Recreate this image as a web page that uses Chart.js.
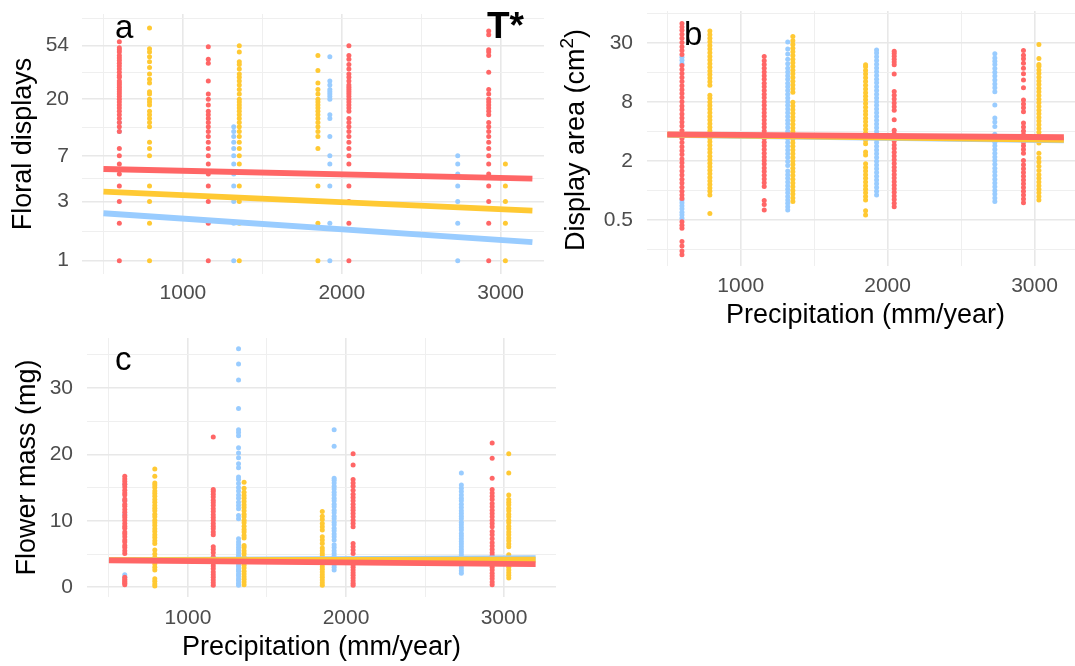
<!DOCTYPE html>
<html>
<head>
<meta charset="utf-8">
<script src="https://cdn.jsdelivr.net/npm/chart.js@4.4.1/dist/chart.umd.min.js"></script>
<style>
  html, body { margin: 0; padding: 0; background: #fff; width: 1075px; height: 666px; overflow: hidden; }
  canvas { position: absolute; }
  #pa { left: 0; top: 0; }
  #pb { left: 545px; top: 0; }
  #pc { left: 0; top: 330px; }
</style>
</head>
<body>
<canvas id="pa" width="548" height="330"></canvas>
<canvas id="pb" width="545" height="340"></canvas>
<canvas id="pc" width="560" height="336"></canvas>
<script>
// sites (precipitation, mm/year) of each colour group
const redSites    = [600, 1160, 2045, 2925];
const yellowSites = [790, 1355, 1850, 3030];
const blueSites   = [600, 1320, 1925, 2730];
const fitX   = [500, 3200];
const xMajor = [1000, 2000, 3000];
const xMinor = [500, 1500, 2500];

// a : floral displays (one list per site)
const displaysRed = [
  [1, 2, 3, 4, 5, 6, 7, 8, 11, 12, 13, 14, 15, 16, 17, 18, 19, 20, 21, 22, 23, 24, 25, 26, 27, 28, 30, 31, 33, 35, 37, 39, 41, 43, 45, 48, 50, 52, 58],
  [1, 2, 3, 4, 5, 6, 7, 8, 9, 10, 11, 12, 13, 14, 15, 16, 18, 20, 22, 28, 39, 42, 53],
  [1, 2, 3, 4, 6, 7, 8, 9, 10, 11, 12, 13, 14, 16, 17, 18, 19, 20, 21, 22, 23, 24, 25, 26, 28, 30, 32, 35, 38, 42, 45, 54],
  [1, 2, 3, 4, 5, 6, 7, 8, 9, 10, 11, 12, 13, 15, 16, 17, 18, 19, 20, 22, 24, 33, 45, 48, 50, 66, 71]
];
const displaysYellow = [
  [1, 2, 3, 4, 7, 8, 9, 12, 13, 14, 15, 16, 18, 19, 20, 22, 23, 27, 29, 32, 36, 40, 44, 48, 51, 75],
  [1, 2, 3, 4, 6, 7, 8, 9, 10, 11, 12, 13, 14, 15, 16, 17, 18, 19, 20, 22, 24, 26, 28, 30, 32, 35, 38, 40, 48, 54],
  [1, 2, 3, 4, 8, 10, 11, 12, 13, 14, 15, 16, 17, 18, 19, 20, 22, 24, 27, 34, 45],
  [1, 2, 3, 4, 6]
];
const displaysBlue = [
  [11, 13],
  [1, 2, 3, 4, 5, 6, 7, 8, 9, 10, 11, 12],
  [1, 2, 4, 6, 7, 10, 14, 15, 20, 21, 22, 23, 24, 26, 28, 44],
  [1, 2, 3, 4, 5, 6, 7]
];
const displaysFitRed    = [5.48, 4.58];
const displaysFitYellow = [3.6, 2.53];
const displaysFitBlue   = [2.41, 1.41];
const displaysTicks = [1, 3, 7, 20, 54];
const displaysTickLabels = ['1', '3', '7', '20', '54'];
const displaysMinor = [1.73, 4.58, 11.8, 32.9, 90];

// b : display area (cm2)
const areaRed = [
  [0.22, 0.24, 0.27, 0.3, 0.41, 0.44, 0.48, 0.83, 0.9, 0.98, 1.08, 1.19, 1.3, 1.44, 1.58, 1.75, 1.92, 2.1, 2.33, 2.55, 2.8, 3.1, 3.4, 3.75, 4.1, 4.55, 5.0, 5.5, 6.05, 6.7, 7.3, 8.1, 8.9, 9.8, 10.7, 11.8, 13, 14.3, 15.7, 17.3, 19, 24.5, 27, 29.5, 32.5, 36, 39.5, 43.5, 47, 51],
  [0.63, 0.72, 0.79, 1.1, 1.2, 1.31, 1.43, 1.56, 1.7, 1.86, 2.02, 2.2, 2.4, 2.62, 2.86, 3.12, 3.4, 3.72, 4.05, 4.42, 4.82, 5.25, 5.75, 6.25, 6.8, 7.45, 8.1, 8.85, 9.65, 10.5, 11.5, 12.5, 13.7, 14.9, 16.3, 17.8, 19.4, 21.2, 23.5],
  [0.68, 0.74, 0.81, 0.88, 0.96, 1.04, 1.13, 1.23, 1.34, 1.46, 1.59, 1.73, 1.89, 2.06, 2.25, 2.46, 2.68, 2.92, 3.2, 3.48, 3.8, 4.12, 5.3, 6.6, 7.2, 7.85, 8.6, 9.4, 10.3, 15.5, 19.3, 20.6, 22, 23.6, 25.2, 26.5],
  [0.75, 0.82, 0.9, 0.98, 1.07, 1.17, 1.28, 1.4, 1.53, 1.67, 1.83, 2.02, 2.4, 2.62, 2.86, 3.12, 3.4, 3.72, 4.06, 4.45, 4.9, 6.4, 7.0, 7.65, 8.4, 11.2, 13.5, 15.6, 17.8, 20, 22.2, 24.2, 27]
];
const areaYellow = [
  [0.58, 0.9, 0.98, 1.06, 1.15, 1.25, 1.36, 1.48, 1.61, 1.75, 1.9, 2.06, 2.24, 2.44, 2.66, 2.9, 3.15, 3.43, 3.74, 4.07, 4.43, 4.82, 5.25, 5.72, 6.23, 6.8, 7.4, 8.05, 8.75, 9.4, 11.9, 12.9, 14.1, 15.3, 16.7, 18.2, 19.8, 21.6, 23.5, 25.6, 27.9, 30.4, 33.1, 36, 39.2, 42.6],
  [0.77, 0.84, 0.92, 1.0, 1.09, 1.19, 1.3, 1.42, 1.55, 1.69, 1.84, 2.0, 2.18, 2.38, 2.6, 2.83, 3.08, 3.36, 3.66, 4.0, 4.36, 4.75, 5.18, 5.64, 6.15, 6.7, 7.3, 8.0, 10.1, 11.0, 12.0, 13.1, 14.3, 15.6, 17.0, 18.5, 20.2, 22, 24, 26.2, 28.5, 31, 34, 37.5],
  [0.56, 0.62, 0.8, 0.87, 0.95, 1.03, 1.12, 1.22, 1.33, 1.45, 1.58, 1.72, 1.88, 2.3, 2.48, 3.0, 3.27, 3.56, 3.88, 4.23, 4.61, 5.03, 5.48, 5.97, 6.5, 7.1, 7.75, 8.45, 9.2, 10.0, 10.9, 11.9, 13.0, 14.2, 15.5, 16.9, 18.4, 19.3],
  [0.8, 0.87, 0.95, 1.03, 1.12, 1.22, 1.33, 1.45, 1.6, 1.77, 1.95, 2.15, 2.4, 3.05, 3.32, 3.62, 3.95, 4.3, 4.7, 5.12, 5.58, 6.08, 6.63, 7.22, 7.87, 8.58, 9.35, 10.2, 11.1, 12.1, 13.2, 14.4, 15.7, 17.1, 18.6, 19.4, 22.4, 31]
];
const areaBlue = [
  [0.52, 0.56, 0.6, 0.65, 0.7, 0.75, 0.8, 19.8, 21.4, 23],
  [0.63, 0.68, 0.74, 0.8, 0.87, 0.95, 1.03, 1.12, 1.22, 1.33, 1.45, 1.58, 1.8, 1.98, 2.17, 2.38, 2.6, 2.84, 3.1, 3.38, 3.69, 4.03, 4.4, 4.8, 5.24, 5.72, 6.24, 6.8, 7.42, 8.1, 8.84, 9.65, 10.5, 11.5, 12.5, 13.7, 14.9, 16.3, 17.8, 19.8, 22, 24.8, 28, 33],
  [0.9, 0.98, 1.07, 1.17, 1.28, 1.4, 1.53, 1.67, 1.82, 1.99, 2.17, 2.37, 2.59, 2.83, 3.09, 3.37, 3.68, 4.02, 4.39, 4.79, 5.23, 5.71, 6.23, 6.8, 7.42, 8.1, 8.84, 9.65, 10.5, 11.5, 12.6, 13.7, 15, 16.4, 17.9, 19.5, 21.3, 23.3, 25.4, 27.3],
  [0.77, 0.84, 0.92, 1.0, 1.09, 1.19, 1.3, 1.42, 1.55, 1.69, 1.85, 2.02, 2.2, 2.4, 2.62, 2.86, 3.12, 3.41, 3.75, 4.5, 5.0, 5.5, 7.5, 10.2, 11.2, 12.3, 13.5, 14.8, 16.2, 17.7, 19.4, 21, 22.6, 25]
];
const areaFitRed    = [3.75, 3.5];
const areaFitYellow = [3.72, 3.3];
const areaFitBlue   = [3.7, 3.25];
const areaTicks = [0.5, 2, 8, 32];
const areaTickLabels = ['0.5', '2', '8', '30'];
const areaMinor = [0.25, 1, 4, 16, 64];

// c : flower mass (mg)
const massRed = [
  [0.4, 0.6, 0.8, 1.0, 1.2, 1.5, 5.1, 5.5, 6.0, 6.3, 6.8, 7.1, 7.6, 8.0, 8.3, 8.9, 9.2, 9.6, 10.1, 10.5, 10.8, 11.3, 11.7, 12.2, 12.5, 13.0, 13.3, 13.9, 14.2, 14.6, 15.1, 15.5, 15.9, 16.3, 16.7],
  [0.3, 0.7, 1.1, 1.5, 1.9, 2.3, 2.8, 3.2, 3.6, 4.1, 4.6, 5.2, 5.7, 6.1, 7.9, 8.3, 8.8, 9.2, 9.6, 10.1, 10.5, 10.9, 11.4, 11.8, 12.3, 12.7, 13.1, 13.6, 14.0, 14.4, 14.7, 22.6],
  [0.3, 0.6, 1.0, 1.4, 1.8, 2.2, 2.6, 3.0, 3.4, 3.8, 5.1, 5.6, 6.1, 6.6, 9.1, 9.6, 10.1, 10.6, 11.1, 11.6, 12.0, 12.5, 13.0, 13.5, 14.0, 14.6, 15.2, 15.7, 16.2, 18.4, 20.1],
  [0.4, 0.8, 1.3, 1.7, 2.1, 2.6, 3.0, 3.4, 3.9, 4.3, 4.8, 5.2, 5.7, 6.2, 6.7, 7.3, 7.9, 8.4, 9.1, 9.6, 10.1, 10.6, 11.1, 11.6, 12.1, 12.6, 13.2, 13.7, 14.2, 14.7, 16.4, 19.4, 21.7]
];
const massYellow = [
  [0.2, 0.5, 0.9, 1.3, 2.6, 3.0, 3.5, 4.0, 4.5, 5.0, 5.6, 6.6, 7.0, 7.5, 7.9, 8.4, 8.8, 9.3, 9.7, 10.1, 10.6, 11.0, 11.5, 11.9, 12.3, 12.8, 13.2, 13.7, 14.1, 14.5, 15.0, 15.4, 15.7, 16.7, 17.8],
  [0.4, 0.8, 1.2, 1.6, 2.0, 2.4, 2.9, 3.3, 3.7, 4.2, 4.6, 5.1, 5.5, 6.0, 6.3, 7.4, 7.8, 8.3, 8.7, 9.2, 9.7, 10.1, 10.6, 11.0, 11.5, 12.0, 12.4, 12.9, 13.4, 13.8, 14.3, 14.9, 15.8],
  [0.3, 0.7, 1.1, 1.5, 1.9, 2.3, 2.7, 3.1, 3.5, 3.9, 4.3, 4.7, 5.1, 5.5, 5.9, 6.6, 7.1, 7.6, 8.6, 9.1, 9.6, 10.2, 10.7, 11.4],
  [1.4, 1.8, 2.2, 2.6, 3.0, 3.4, 3.8, 4.2, 4.6, 4.9, 6.1, 6.5, 7.0, 7.4, 7.9, 8.3, 8.8, 9.2, 9.7, 10.1, 10.6, 11.0, 11.5, 11.9, 12.4, 12.8, 13.2, 13.9, 17.2, 20.1]
];
const massBlue = [
  [1.5, 1.9, 11, 13, 15.5],
  [0.3, 0.6, 1.0, 1.3, 1.7, 2.0, 2.4, 2.7, 3.1, 3.4, 3.8, 4.1, 4.5, 4.8, 5.2, 5.6, 6.0, 6.4, 6.8, 7.3, 10.3, 10.8, 11.8, 12.3, 12.8, 13.4, 13.9, 14.5, 15.0, 15.6, 16.2, 16.6, 18.0, 18.6, 19.5, 20.2, 21.0, 22.8, 23.3, 23.7, 26.9, 31.2, 33.6, 35.9],
  [2.6, 3.0, 3.4, 3.8, 4.3, 4.7, 5.1, 5.5, 6.0, 6.4, 7.1, 7.6, 8.0, 8.5, 8.9, 9.4, 9.8, 10.3, 10.7, 11.2, 11.6, 12.1, 12.5, 13.0, 13.4, 13.9, 14.3, 14.8, 15.2, 15.7, 16.1, 16.4, 21.2, 23.7],
  [2.1, 2.5, 2.9, 3.3, 3.7, 4.1, 4.5, 4.9, 5.3, 5.7, 6.1, 6.5, 6.9, 7.3, 7.7, 8.1, 8.6, 9.0, 9.4, 9.8, 10.3, 10.7, 11.1, 11.5, 12.0, 12.5, 13.0, 13.4, 13.9, 14.4, 14.9, 15.4, 17.2]
];
const massFitRed    = [4.05, 3.5];
const massFitYellow = [4.1, 4.15];
const massFitBlue   = [4.1, 4.4];
const massTicks = [0, 10, 20, 30];
const massTickLabels = ['0', '10', '20', '30'];
const massMinor = [5, 15, 25, 35];

const RED = '#ff6666', YELLOW = '#ffc933', BLUE = '#99ccff';
const FONT = "'Liberation Sans', Arial, Helvetica, sans-serif";
Chart.defaults.font.family = FONT;

function pts(sites, cols) {
  return sites.flatMap((x, i) => cols[i].map(y => ({ x, y })));
}
function fit(ys) {
  return fitX.map((x, i) => ({ x, y: ys[i] }));
}
function tickList(major, minor) {
  return major.map(v => ({ value: v, major: true }))
    .concat(minor.map(v => ({ value: v, major: false })))
    .sort((a, b) => a.value - b.value);
}
const gridOpts = {
  color: c => (c.tick && c.tick.major) ? '#e8e8e8' : '#efefef',
  lineWidth: c => (c.tick && c.tick.major) ? 1.6 : 1,
  drawTicks: false,
};

// panel letters + the b y-title (needs a real superscript)
function textPlugin(items) {
  return {
    id: 'panelText',
    afterDraw(chart) {
      const ctx = chart.ctx;
      ctx.save();
      ctx.fillStyle = '#000';
      items.forEach(t => {
        if (t.parts) {
          ctx.save();
          ctx.translate(t.x, t.y);
          ctx.rotate(-Math.PI / 2);
          ctx.textBaseline = 'middle';
          let w = 0;
          t.parts.forEach(p => { ctx.font = p.font; w += ctx.measureText(p.text).width; });
          let cx = -w / 2;
          t.parts.forEach(p => {
            ctx.font = p.font;
            ctx.fillText(p.text, cx, p.dy || 0);
            cx += ctx.measureText(p.text).width;
          });
          ctx.restore();
        } else {
          ctx.textBaseline = 'alphabetic';
          ctx.font = t.font;
          ctx.fillText(t.text, t.x, t.y);
        }
      });
      ctx.restore();
    }
  };
}

function panel(id, o) {
  const line = (ys, col, order) => ({
    type: 'line', data: fit(ys), borderColor: col, borderWidth: 5.8,
    pointRadius: 0, fill: false, tension: 0, order
  });
  const dots = (data, col, order) => ({
    data, backgroundColor: col, borderWidth: 0, pointRadius: 2.5, order
  });
  return new Chart(document.getElementById(id), {
    type: 'scatter',
    data: {
      datasets: [
        line(o.fitRed, RED, 0),
        line(o.fitYellow, YELLOW, 1),
        line(o.fitBlue, BLUE, 2),
        dots(pts(redSites, o.red), RED, 3),
        dots(pts(yellowSites, o.yellow), YELLOW, 4),
        dots(pts(blueSites, o.blue), BLUE, 5),
      ]
    },
    options: {
      responsive: false,
      animation: false,
      events: [],
      layout: { padding: o.pad },
      plugins: { legend: { display: false }, tooltip: { enabled: false } },
      scales: {
        x: {
          type: 'linear', min: o.xMin, max: o.xMax,
          border: { display: false },
          grid: gridOpts,
          afterBuildTicks: s => { s.ticks = tickList(xMajor, xMinor); },
          afterFit: s => { s.height = o.xH; s.paddingLeft = 0; s.paddingRight = 0; },
          ticks: {
            autoSkip: false, maxRotation: 0, padding: o.xPad,
            color: '#4d4d4d', font: { size: 21 },
            callback: v => xMajor.includes(v) ? String(v) : ''
          },
          title: o.xTitle ? {
            display: true, text: 'Precipitation (mm/year)', color: '#000',
            font: { size: 27 }, padding: { top: 0, bottom: o.xTitlePad }
          } : { display: false }
        },
        y: {
          type: o.yType, min: o.yMin, max: o.yMax,
          border: { display: false },
          grid: gridOpts,
          afterBuildTicks: s => { s.ticks = tickList(o.yTicks, o.yMinor); },
          afterFit: s => { s.width = o.yW; s.paddingTop = 0; s.paddingBottom = 0; },
          ticks: {
            autoSkip: false, padding: o.yPad,
            color: '#4d4d4d', font: { size: 21 },
            callback: v => { const i = o.yTicks.indexOf(v); return i >= 0 ? o.yLabels[i] : ''; }
          },
          title: o.yTitle ? {
            display: true, text: o.yTitle, color: '#000',
            font: { size: 27 }, padding: { top: o.yTitlePad, bottom: 0 }
          } : { display: false }
        }
      }
    },
    plugins: [textPlugin(o.text)]
  });
}

panel('pa', {
  red: displaysRed, yellow: displaysYellow, blue: displaysBlue,
  fitRed: displaysFitRed, fitYellow: displaysFitYellow, fitBlue: displaysFitBlue,
  yType: 'logarithmic', yMin: 0.781, yMax: 97.2,
  yTicks: displaysTicks, yLabels: displaysTickLabels, yMinor: displaysMinor,
  yTitle: 'Floral displays', yTitlePad: 7, yW: 82, yPad: 13,
  xMin: 365, xMax: 3273, xH: 56, xPad: 7, xTitle: false,
  pad: { left: 0, top: 14, right: 4, bottom: 0 },
  text: [
    { text: 'a', x: 115, y: 38, font: '33px ' + FONT },
    { text: 'T*', x: 487, y: 38, font: 'bold 37px ' + FONT },
  ]
});

panel('pb', {
  red: areaRed, yellow: areaYellow, blue: areaBlue,
  fitRed: areaFitRed, fitYellow: areaFitYellow, fitBlue: areaFitBlue,
  yType: 'logarithmic', yMin: 0.169, yMax: 68.4,
  yTicks: areaTicks, yLabels: areaTickLabels, yMinor: areaMinor,
  yTitle: null, yW: 102, yPad: 14,
  xMin: 362, xMax: 3337, xH: 74, xPad: 8, xTitle: true, xTitlePad: 7.8,
  pad: { left: 0, top: 11, right: 6, bottom: 0 },
  text: [
    { text: 'b', x: 139, y: 45, font: '33px ' + FONT },
    { x: 32, y: 140, parts: [
      { text: 'Display area (cm', font: '27px ' + FONT },
      { text: '2', font: '19px ' + FONT, dy: -9 },
      { text: ')', font: '27px ' + FONT },
    ] },
  ]
});

panel('pc', {
  red: massRed, yellow: massYellow, blue: massBlue,
  fitRed: massFitRed, fitYellow: massFitYellow, fitBlue: massFitBlue,
  yType: 'linear', yMin: -1.46, yMax: 37.5,
  yTicks: massTicks, yLabels: massTickLabels, yMinor: massMinor,
  yTitle: 'Flower mass (mg)', yTitlePad: 11.4, yW: 87, yPad: 14,
  xMin: 361, xMax: 3329, xH: 69, xPad: 8.4, xTitle: true, xTitlePad: 1.8,
  pad: { left: 0, top: 8, right: 4, bottom: 0 },
  text: [
    { text: 'c', x: 115, y: 40, font: '33px ' + FONT },
  ]
});
</script>
</body>
</html>
